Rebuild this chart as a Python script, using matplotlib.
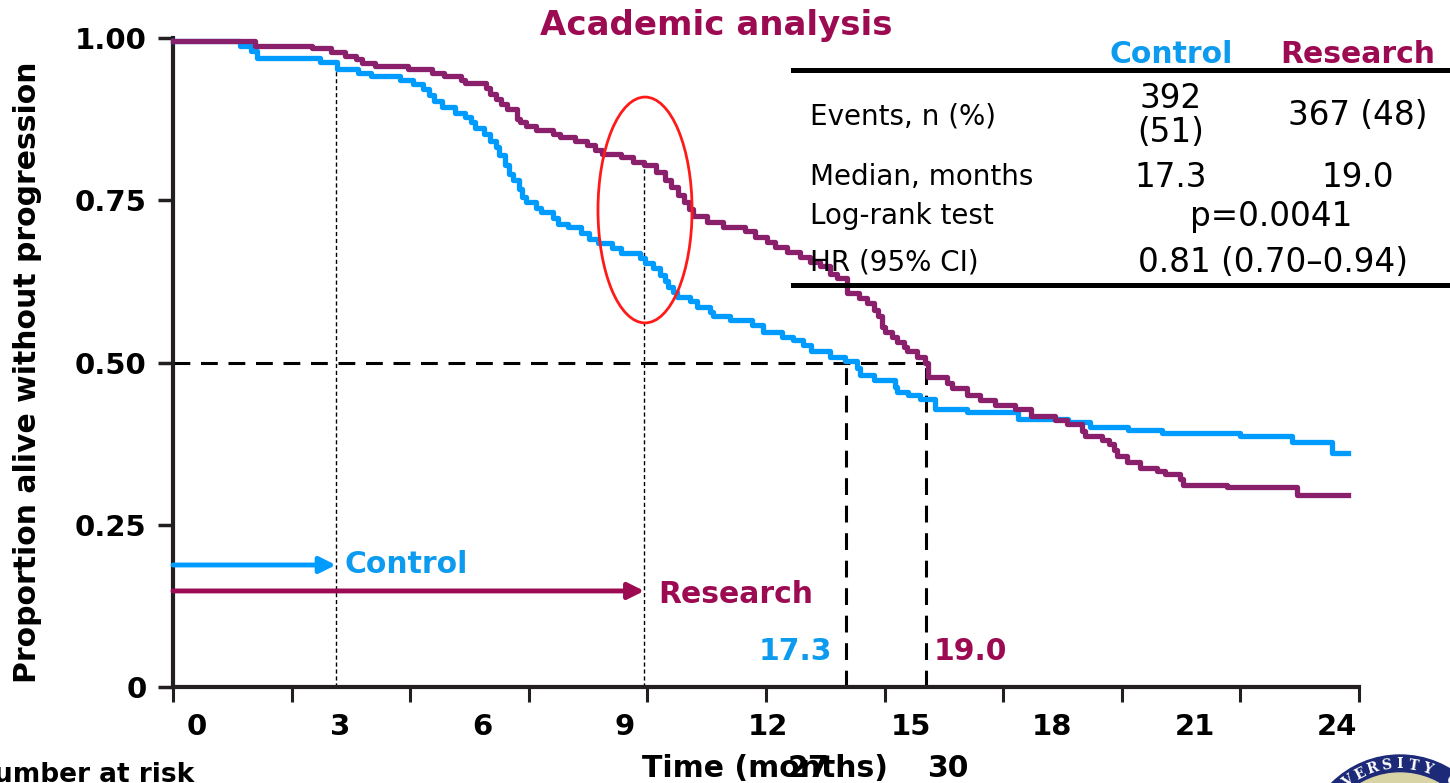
import matplotlib
matplotlib.use("Agg")
import matplotlib.pyplot as plt
from matplotlib.patches import Ellipse, Circle
import numpy as np

W, H = 1450, 783

# Kaplan-Meier step data (months, proportion)
ctrl_t = [0, 1.69, 1.98, 2.12, 3.72, 4.15, 4.68, 5.02, 5.74, 6.08, 6.32, 6.47, 6.61,
          6.80, 7.14, 7.38, 7.53, 7.63, 7.87, 8.01, 8.16, 8.25, 8.40, 8.49, 8.59, 8.74,
          8.83, 8.93, 9.17, 9.31, 9.60, 9.75, 9.99, 10.33, 10.52, 10.76, 11.10, 11.34,
          11.81, 11.94, 12.15, 12.32, 12.45, 12.53, 12.66, 12.74, 13.08, 13.25, 13.59,
          13.67, 14.09, 14.64, 14.93, 15.40, 15.69, 15.94, 16.15, 16.62, 17.00, 17.30,
          17.38, 17.72, 18.26, 18.31, 18.60, 18.90, 19.28, 20.08, 21.38, 22.64, 23.20,
          24.16, 25.02, 26.99, 28.30, 29.32, 29.72]
ctrl_s = [0.995, 0.987, 0.980, 0.969, 0.963, 0.952, 0.946, 0.941, 0.935, 0.929, 0.921,
          0.912, 0.903, 0.893, 0.885, 0.878, 0.871, 0.862, 0.852, 0.842, 0.832, 0.819,
          0.804, 0.791, 0.781, 0.768, 0.755, 0.747, 0.738, 0.732, 0.722, 0.714, 0.709,
          0.699, 0.691, 0.684, 0.676, 0.668, 0.661, 0.653, 0.645, 0.635, 0.625, 0.617,
          0.609, 0.601, 0.594, 0.586, 0.578, 0.571, 0.565, 0.558, 0.547, 0.540, 0.535,
          0.527, 0.517, 0.509, 0.503, 0.491, 0.481, 0.473, 0.463, 0.455, 0.450, 0.443,
          0.429, 0.424, 0.413, 0.408, 0.401, 0.396, 0.392, 0.386, 0.377, 0.360, 0.360]

res_t = [0, 2.08, 3.52, 4.00, 4.34, 4.63, 4.78, 5.12, 5.94, 6.56, 6.85, 7.29, 7.38,
         7.92, 8.01, 8.16, 8.30, 8.45, 8.69, 8.78, 8.93, 9.17, 9.60, 9.80, 10.18, 10.47,
         10.67, 10.86, 11.34, 11.63, 11.92, 12.21, 12.45, 12.60, 12.78, 12.93, 13.05,
         13.16, 13.50, 13.92, 14.47, 14.72, 15.02, 15.23, 15.52, 15.86, 16.11, 16.37,
         16.62, 16.79, 17.06, 17.34, 17.55, 17.72, 17.84, 17.93, 18.01, 18.18, 18.31,
         18.48, 18.56, 18.81, 19.02, 19.11, 19.57, 19.70, 20.08, 20.41, 20.79, 21.30,
         21.70, 22.31, 22.61, 22.99, 23.07, 23.49, 23.67, 23.80, 23.87, 24.13, 24.46,
         24.89, 25.10, 25.47, 25.56, 26.66, 28.43, 29.72]
res_s = [0.995, 0.988, 0.985, 0.978, 0.973, 0.967, 0.962, 0.957, 0.952, 0.946, 0.941,
         0.936, 0.930, 0.923, 0.913, 0.906, 0.898, 0.890, 0.875, 0.870, 0.864, 0.859,
         0.852, 0.847, 0.842, 0.835, 0.828, 0.821, 0.816, 0.809, 0.804, 0.793, 0.781,
         0.771, 0.758, 0.748, 0.737, 0.725, 0.717, 0.709, 0.702, 0.694, 0.686, 0.678,
         0.671, 0.663, 0.655, 0.648, 0.637, 0.630, 0.607, 0.599, 0.592, 0.581, 0.571,
         0.555, 0.547, 0.540, 0.532, 0.524, 0.517, 0.509, 0.499, 0.478, 0.468, 0.460,
         0.450, 0.442, 0.435, 0.428, 0.418, 0.412, 0.405, 0.395, 0.386, 0.381, 0.375,
         0.365, 0.356, 0.346, 0.338, 0.333, 0.328, 0.321, 0.311, 0.308, 0.296, 0.296]

# axis labels as printed on the slide (they sit off the real tick marks)
xtick_labels = ["0", "3", "6", "9", "12", "15", "18", "21", "24"]
xtick_label_pos = [0.61, 4.22, 7.82, 11.43, 15.05, 18.67, 22.24, 25.85, 29.45]
xtick_marks = [0, 3, 6, 9, 12, 15, 18, 21, 24, 27, 30]
ytick_vals = [0, 0.25, 0.5, 0.75, 1.0]
ytick_labels = ["0", "0.25", "0.50", "0.75", "1.00"]

medians = [17.3, 19.0]
median_lines = [17.03, 19.05]
arrow_end = [4.12, 11.92]      # control, research
arrow_y = [0.188, 0.148]
guide_top = [0.963, 0.809]

table_rows = ["Events, n (%)", "Median, months", "Log-rank test", "HR (95% CI)"]
ctrl_col = ["392\n(51)", "17.3"]
res_col = ["367 (48)", "19.0"]
pooled = ["p=0.0041", "0.81 (0.70\u20130.94)"]

BLUE = "#009bff"
BLUE_TXT = "#0d9bef"
PURPLE = "#8a1f6c"
PURPLE_TXT = "#9c0a52"
DARK = "#231f20"

fig = plt.figure(figsize=(W / 100, H / 100), dpi=100)
ax = fig.add_axes([173 / W, (H - 687) / H, (1359 - 173) / W, (687 - 38) / H])
ax.set_xlim(0, 30)
ax.set_ylim(0, 1)


def fx(px):
    return px / W


def fy(py):
    return 1 - py / H


# guide lines
dash = (0, (5.5, 3.5))
ax.plot([median_lines[0], median_lines[0]], [0, 0.5], color="black", lw=2.2,
        ls=dash, zorder=2)
ax.plot([median_lines[1], median_lines[1]], [0, 0.5], color="black", lw=2.2,
        ls=dash, zorder=2)
ax.plot([0, median_lines[1]], [0.5, 0.5], color="black", lw=2.2, ls=dash, zorder=2)
for xe, yt in zip(arrow_end, guide_top):
    ax.plot([xe, xe], [0, yt], color="black", lw=1.0, ls=(0, (3, 2)), zorder=2)

# curves
ax.step(ctrl_t, ctrl_s, where="post", color=BLUE, lw=3.8, zorder=3, clip_on=False)
ax.step(res_t, res_s, where="post", color=PURPLE, lw=3.8, zorder=4, clip_on=False)

# red highlight ellipse
ax.add_patch(Ellipse((11.94, 0.735), 2.38, 0.348, fill=False, edgecolor="#ff1a1a",
                     lw=2.0, zorder=5))

# arrows and labels
ax.annotate("", xy=(arrow_end[0], arrow_y[0]), xytext=(0, arrow_y[0]),
            arrowprops=dict(arrowstyle="-|>", color=BLUE, lw=3.5, mutation_scale=24,
                            shrinkA=0, shrinkB=0))
ax.annotate("", xy=(arrow_end[1], arrow_y[1]), xytext=(0, arrow_y[1]),
            arrowprops=dict(arrowstyle="-|>", color=PURPLE_TXT, lw=3.5, mutation_scale=24,
                            shrinkA=0, shrinkB=0))
ax.text(4.35, 0.188, "Control", color=BLUE_TXT, fontsize=21.5, fontweight="bold",
        ha="left", va="center")
ax.text(12.27, 0.143, "Research", color=PURPLE_TXT, fontsize=21.5, fontweight="bold",
        ha="left", va="center")
ax.text(16.67, 0.054, f"{medians[0]:.1f}", color=BLUE_TXT, fontsize=21.5,
        fontweight="bold", ha="right", va="center")
ax.text(19.23, 0.054, f"{medians[1]:.1f}", color=PURPLE_TXT, fontsize=21.5,
        fontweight="bold", ha="left", va="center")

# axes styling
for s in ["top", "right"]:
    ax.spines[s].set_visible(False)
for s in ["left", "bottom"]:
    ax.spines[s].set_linewidth(3)
    ax.spines[s].set_color(DARK)
ax.set_yticks(ytick_vals)
ax.set_yticklabels(ytick_labels, fontsize=21, fontweight="bold")
ax.tick_params(axis="y", length=11, width=2.5, color=DARK, pad=8)
ax.set_xticks(xtick_label_pos)
ax.set_xticklabels(xtick_labels, fontsize=21, fontweight="bold")
ax.set_xticks(xtick_marks, minor=True)
ax.tick_params(axis="x", which="major", length=0, pad=19)
ax.tick_params(axis="x", which="minor", length=11, width=2.2, color=DARK)

# title and axis titles
fig.text(fx(716), fy(35), "Academic analysis", color=PURPLE_TXT, fontsize=24.5,
         fontweight="bold", ha="center", va="baseline")
fig.text(fx(28), fy(372), "Proportion alive without progression", fontsize=21.5,
         fontweight="bold", rotation=90, ha="center", va="center")
fig.text(fx(765), fy(777), "Time (months)", fontsize=21.5, fontweight="bold",
         ha="center", va="baseline")
fig.text(fx(808), fy(777), "27", fontsize=21.5, fontweight="bold", ha="center",
         va="baseline")
fig.text(fx(948), fy(777), "30", fontsize=21.5, fontweight="bold", ha="center",
         va="baseline")
fig.text(fx(194), fy(782), "Number at risk", fontsize=19, fontweight="bold",
         ha="right", va="baseline")

# results table
for yy in [70, 285]:
    fig.add_artist(plt.Line2D([fx(793), fx(1450)], [fy(yy), fy(yy)], color="black",
                              lw=3.6))
fig.text(fx(1171), fy(63), "Control", color=BLUE_TXT, fontsize=21.5, fontweight="bold",
         ha="center", va="baseline")
fig.text(fx(1358), fy(63), "Research", color=PURPLE_TXT, fontsize=21.5,
         fontweight="bold", ha="center", va="baseline")
row_base = [124, 185, 224, 270]
for lab, yb in zip(table_rows, row_base):
    fig.text(fx(810), fy(yb), lab, fontsize=20, ha="left", va="baseline")
NUM = 23.5
fig.text(fx(1171), fy(108), ctrl_col[0].split("\n")[0], fontsize=NUM, ha="center",
         va="baseline")
fig.text(fx(1171), fy(142), ctrl_col[0].split("\n")[1], fontsize=NUM, ha="center",
         va="baseline")
fig.text(fx(1358), fy(125), res_col[0], fontsize=NUM, ha="center", va="baseline")
fig.text(fx(1171), fy(187), ctrl_col[1], fontsize=NUM, ha="center", va="baseline")
fig.text(fx(1358), fy(187), res_col[1], fontsize=NUM, ha="center", va="baseline")
fig.text(fx(1271), fy(226), pooled[0], fontsize=NUM, ha="center", va="baseline")
fig.text(fx(1273), fy(272), pooled[1], fontsize=NUM, ha="center", va="baseline")

# university seal peeking in at the bottom right corner
cx, cy, r = 14.00, -0.69, 0.97
fig.add_artist(Circle((cx, cy), r, transform=fig.dpi_scale_trans, color="#1c2a78"))
fig.add_artist(Circle((cx, cy), 0.79, transform=fig.dpi_scale_trans, color="#d9d4a6"))
fig.add_artist(Circle((cx, cy), 0.66, transform=fig.dpi_scale_trans, color="#1c2a78"))
seal = "UNIVERSITY OF"
for k, ch in enumerate(seal):
    ang = np.deg2rad(90 + (7 - k) * 9)
    fig.text(cx + 0.875 * np.cos(ang), cy + 0.875 * np.sin(ang), ch,
             transform=fig.dpi_scale_trans, color="white", fontsize=10,
             fontweight="bold", family="DejaVu Serif", ha="center", va="center",
             rotation=np.rad2deg(ang) - 90)

fig.savefig("out.png", dpi=100)
